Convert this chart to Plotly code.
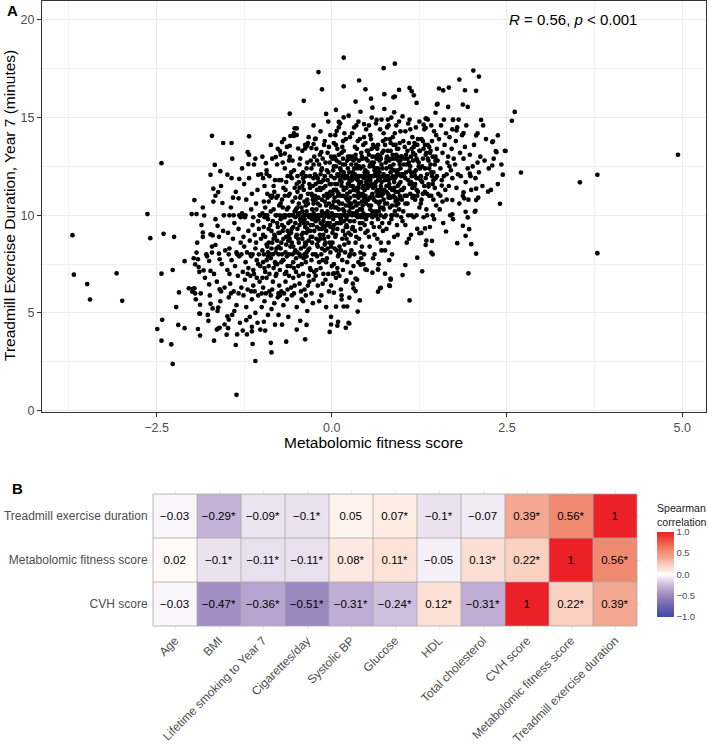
import plotly.graph_objects as go

# ---------------- Panel A data: (metabolomic fitness score, treadmill minutes) ----------------
pts_left_tail = [
    (-3.70, 8.98), (-3.68, 6.96), (-3.49, 6.48), (-3.45, 5.69), (-3.07, 7.03), (-2.99, 5.62),
    (-2.63, 10.06), (-2.59, 8.83), (-2.43, 12.67), (-2.40, 9.05), (-2.25, 8.9), (-2.49, 4.18),
    (-2.42, 4.65), (-2.43, 3.58), (-2.43, 7.01), (-2.27, 7.2), (-2.29, 3.39), (-2.27, 2.39),
    (-2.22, 5.3), (-2.19, 4.39), (-2.18, 6.05), (-2.1, 4.22), (-2.1, 7.65), (-2.04, 6.26),
    (-1.96, 6.26), (-1.99, 6.09), (-1.91, 4.18), (-1.88, 3.84), (-1.89, 4.97), (-1.88, 5.42),
    (-1.36, 0.81), (-1.37, 3.36), (-1.09, 2.54), (-1.13, 3.41), (-0.87, 3.47), (-0.86, 2.98),
    (-0.65, 3.53), (-0.5, 4.15), (-0.38, 3.65), (-0.36, 4.39), (-0.03, 4.03), (-0.01, 4.8),
    (0.08, 4.35), (0.2, 4.24), (0.25, 4.46), (-1.68, 3.58), (-1.62, 4.2), (-1.5, 3.89),
    (-1.48, 4.22), (-1.22, 4.63), (-1.14, 4.29), (-1.14, 4.06), (-1.02, 4.15), (-0.97, 4.55),
    (-1.71, 14.07), (-1.55, 13.7), (-1.43, 13.7), (-1.18, 14.04), (-0.60, 15.2), (-0.40, 15.86),
    (-0.19, 17.33), (-0.14, 16.45), (-0.08, 15.19), (0.17, 18.07), (0.17, 16.6), (0.34, 15.82),
    (0.39, 16.9), (-1.2, 13.23), (-1.19, 12.62), (-1.67, 12.58), (-1.73, 12.07), (-1.59, 12.26),
    (-1.49, 12.08), (-1.43, 11.9), (-1.32, 11.86), (-1.96, 10.78), (-2.0, 10.06), (-1.93, 10.06),
    (-1.82, 9.99), (-1.66, 11.0), (-1.56, 10.63), (-1.69, 11.36), (-1.62, 11.19), (-1.33, 10.87),
    (-1.46, 10.0), (-1.4, 10.0), (-1.3, 10.0), (-1.84, 9.12), (-1.84, 8.9), (-1.73, 9.02),
    (-1.7, 8.97), (-1.63, 9.46), (-1.66, 8.48), (-1.93, 8.09), (-1.91, 7.75), (-1.95, 7.49),
    (-1.9, 7.35), (-1.83, 7.18), (-1.73, 7.15), (-1.75, 7.66), (-1.71, 8.09), (-1.6, 7.75),
    (-1.61, 8.04), (-1.98, 6.24), (-1.95, 6.0), (-1.87, 6.0), (-1.75, 6.46), (-1.73, 5.47),
    (-1.7, 5.23), (-1.62, 5.28), (-1.6, 6.21), (-1.58, 6.1), (-1.88, 4.96), (-1.77, 4.9),
    (-1.49, 4.83), (-1.47, 4.66), (-1.53, 4.41), (-1.6, 4.24), (-1.64, 4.15),
    (-1.05, 12.07), (-0.93, 12.12), (-0.94, 12.67), (-0.99, 13.0), (-0.8, 12.98), (-0.74, 13.29),
    (-0.71, 13.75), (-0.67, 13.16), (-0.6, 13.56), (-0.61, 12.8), (-0.53, 14.45), (-0.5, 14.45),
    (-0.59, 14.06), (-0.54, 14.06), (-0.5, 14.11), (-0.48, 13.42), (-0.38, 13.42), (-0.35, 13.56),
    (-0.29, 13.44), (-0.26, 13.65), (-0.23, 13.92), (-0.15, 13.23),
]

pts_right_tail = [
    (4.94, 13.1), (3.54, 11.69), (3.79, 12.07), (3.79, 8.06), (2.7, 12.19), (2.57, 14.84),
    (2.61, 15.29), (2.4, 10.59), (2.37, 11.6), (2.23, 11.21), (2.06, 11.36), (2.06, 10.78),
    (2.05, 10.23), (2.44, 12.08), (2.48, 13.29), (2.37, 14.09), (2.3, 13.78), (2.35, 13.23),
    (2.02, 17.41), (2.1, 17.1), (1.82, 16.95), (1.9, 16.4), (2.06, 16.37), (1.94, 15.55),
    (1.87, 15.67), (1.53, 16.49), (1.59, 16.39), (1.67, 16.54), (1.5, 15.67), (1.66, 15.55),
    (0.74, 17.53), (0.9, 17.76), (0.48, 16.45), (0.75, 16.2), (0.88, 16.04), (0.9, 16.08),
    (0.96, 16.42), (1.11, 16.52), (1.14, 16.35), (1.17, 16.14), (1.21, 15.75), (0.56, 15.97),
    (0.58, 15.51), (0.75, 15.44), (0.89, 15.27), (1.01, 15.06), (1.34, 14.95), (1.48, 15.25),
    (1.51, 15.7), (1.73, 14.88), (2.06, 8.04), (1.95, 7.03), (1.11, 5.64), (0.37, 5.07),
    (0.4, 5.64), (0.82, 6.41), (0.84, 6.7), (0.76, 7.01), (0.66, 6.09), (0.7, 6.29),
    (1.01, 6.94), (1.22, 7.83), (1.29, 7.13), (1.05, 7.45), (1.99, 8.52), (1.91, 8.95),
    (1.96, 9.29), (1.87, 9.46), (1.79, 8.57), (1.63, 9.17), (1.72, 10.05), (1.91, 10.18),
    (1.94, 9.89), (2.04, 10.18), (1.43, 8.69), (1.42, 8.09), (1.44, 8.0), (1.34, 8.48),
    (1.25, 9.08), (1.33, 9.33), (0.84, 6.76), (0.83, 6.38), (0.69, 6.27), (0.66, 7.23),
    (0.24, 4.49), (0.09, 4.55), (-0.01, 4.41), (0.22, 5.33), (0.17, 5.33), (0.06, 5.32),
    (0.14, 5.69), (0.03, 6.04), (0.25, 5.78), (0.34, 6.12), (0.31, 6.26), (0.34, 6.76),
    (0.21, 6.67), (0.27, 7.06), (0.03, 7.03), (0.08, 7.06), (0.41, 7.47), (0.48, 7.23),
    (0.58, 7.06), (0.66, 7.22), (0.17, 15.01), (0.1, 14.78), (0.07, 14.31), (0.64, 14.88),
    (0.81, 14.6), (0.46, 14.67), (1.31, 14.64), (1.34, 14.48), (1.35, 14.95), (1.73, 14.9),
    (2.13, 14.88), (1.78, 14.34), (1.88, 14.21), (2.06, 14.09), (2.29, 13.75), (2.47, 13.3),
    (2.34, 13.29), (2.29, 12.55), (1.88, 11.18), (1.89, 10.87), (1.57, 11.52), (1.72, 10.78),
    (1.19, 11.6), (1.38, 11.47), (1.97, 12.13), (2.08, 12.7),
]

pts_core_negative = [
    (-1.97, 7.8), (-1.92, 8.6), (-1.86, 9.5), (-1.81, 6.8), (-1.78, 7.9), (-1.74, 5.9), (-1.71, 8.4),
    (-1.68, 7.0), (-1.66, 9.8), (-1.64, 6.6), (-1.61, 8.9), (-1.59, 5.6), (-1.57, 7.5), (-1.55, 9.2),
    (-1.53, 6.3), (-1.52, 8.2), (-1.94, 5.7), (-1.84, 10.4), (-1.76, 4.6), (-1.69, 10.7), (-1.58, 11.5),
    (-1.54, 10.0), (-1.89, 7.1), (-1.79, 8.0), (-1.63, 5.1),
    (-1.49, 7.2), (-1.48, 9.1), (-1.47, 5.8), (-1.46, 8.3), (-1.45, 6.5), (-1.44, 10.4), (-1.43, 7.7),
    (-1.42, 4.9), (-1.41, 8.8), (-1.40, 6.1), (-1.39, 9.6), (-1.38, 7.4), (-1.37, 11.2), (-1.36, 5.4),
    (-1.35, 8.0), (-1.34, 6.9), (-1.33, 9.3), (-1.32, 7.9), (-1.31, 4.5), (-1.30, 8.6), (-1.29, 6.3),
    (-1.28, 10.1), (-1.27, 7.1), (-1.26, 8.9), (-1.26, 5.9), (-1.25, 11.6), (-1.47, 8.0), (-1.44, 6.0),
    (-1.41, 10.9), (-1.39, 5.1), (-1.36, 8.1), (-1.33, 6.0), (-1.30, 9.9), (-1.28, 12.4), (-1.27, 4.1),
    (-1.42, 12.9), (-1.35, 3.9), (-1.46, 7.0), (-1.32, 10.0), (-1.29, 8.0),
    (-1.25, 8.4), (-1.24, 6.7), (-1.24, 9.9), (-1.23, 7.6), (-1.22, 5.3), (-1.22, 10.8), (-1.21, 8.1),
    (-1.20, 6.2), (-1.19, 9.2), (-1.19, 7.3), (-1.18, 11.9), (-1.17, 4.8), (-1.17, 8.7), (-1.16, 6.9),
    (-1.15, 10.3), (-1.15, 7.9), (-1.14, 5.7), (-1.13, 9.5), (-1.13, 8.0), (-1.12, 6.4), (-1.11, 12.6),
    (-1.11, 7.0), (-1.10, 9.0), (-1.09, 5.0), (-1.09, 8.3), (-1.08, 10.6), (-1.07, 6.8), (-1.07, 7.7),
    (-1.06, 11.3), (-1.05, 5.9), (-1.05, 9.7), (-1.04, 8.0), (-1.03, 6.6), (-1.03, 10.0), (-1.02, 7.4),
    (-1.01, 12.1), (-1.01, 8.8), (-1.00, 6.0), (-1.23, 10.0), (-1.21, 3.9), (-1.18, 13.1), (-1.16, 8.0),
    (-1.14, 11.1), (-1.12, 7.2), (-1.10, 6.1), (-1.08, 8.6), (-1.06, 4.5), (-1.04, 9.3), (-1.02, 10.0),
    (-1.20, 7.0), (-1.15, 6.1), (-1.09, 12.9), (-1.05, 7.5), (-1.12, 9.9), (-1.0, 5.3),
    (-0.99, 8.2), (-0.99, 10.1), (-0.98, 6.3), (-0.98, 7.6), (-0.97, 9.4), (-0.96, 11.5), (-0.96, 5.6),
    (-0.95, 8.9), (-0.95, 7.1), (-0.94, 10.0), (-0.93, 6.8), (-0.93, 12.3), (-0.92, 8.4), (-0.91, 4.9),
    (-0.91, 9.8), (-0.90, 7.4), (-0.90, 10.7), (-0.89, 6.1), (-0.88, 8.0), (-0.88, 11.0), (-0.87, 7.8),
    (-0.86, 9.2), (-0.86, 5.2), (-0.85, 8.6), (-0.85, 12.9), (-0.84, 6.6), (-0.83, 10.3), (-0.83, 7.3),
    (-0.82, 9.0), (-0.81, 4.4), (-0.81, 11.8), (-0.80, 8.1), (-0.80, 6.9), (-0.79, 10.0), (-0.78, 7.5),
    (-0.78, 9.6), (-0.77, 5.8), (-0.77, 13.4), (-0.76, 8.4), (-0.75, 6.4), (-0.75, 10.5), (-0.97, 8.0),
    (-0.94, 6.0), (-0.92, 10.0), (-0.89, 12.0), (-0.87, 5.9), (-0.84, 8.0), (-0.82, 11.2), (-0.79, 7.0),
    (-0.76, 9.1), (-0.98, 11.9), (-0.95, 4.1), (-0.91, 7.9), (-0.88, 9.5), (-0.85, 6.2), (-0.83, 8.8),
    (-0.80, 10.0), (-0.78, 12.6), (-0.76, 6.0), (-0.96, 9.9), (-0.93, 7.7), (-0.90, 8.6), (-0.86, 10.9),
    (-0.82, 5.5), (-0.79, 8.3), (-0.77, 11.0), (-0.99, 6.8), (-0.87, 13.6), (-0.81, 7.6), (-0.76, 4.9),
    (-0.74, 9.1), (-0.74, 7.2), (-0.73, 10.6), (-0.73, 8.3), (-0.72, 6.1), (-0.72, 11.8), (-0.71, 9.5),
    (-0.70, 7.7), (-0.70, 12.7), (-0.69, 8.8), (-0.69, 5.4), (-0.68, 10.0), (-0.67, 7.0), (-0.67, 9.9),
    (-0.66, 11.3), (-0.66, 6.6), (-0.65, 8.5), (-0.64, 13.5), (-0.64, 7.9), (-0.63, 9.2), (-0.62, 4.8),
    (-0.62, 10.4), (-0.61, 8.0), (-0.61, 6.9), (-0.60, 11.1), (-0.59, 9.7), (-0.59, 7.4), (-0.58, 12.2),
    (-0.57, 8.6), (-0.57, 5.9), (-0.56, 10.0), (-0.55, 7.6), (-0.55, 9.4), (-0.54, 14.2), (-0.53, 8.1),
    (-0.53, 6.4), (-0.52, 10.9), (-0.51, 8.9), (-0.51, 7.1), (-0.50, 11.6), (-0.73, 13.1), (-0.71, 8.0),
    (-0.68, 6.0), (-0.66, 10.0), (-0.63, 12.0), (-0.61, 9.0), (-0.58, 6.3), (-0.56, 8.0), (-0.53, 10.2),
    (-0.50, 5.3), (-0.74, 10.0), (-0.70, 9.2), (-0.67, 12.4), (-0.64, 5.7), (-0.62, 8.7), (-0.60, 10.0),
    (-0.57, 11.9), (-0.55, 6.8), (-0.52, 9.6), (-0.72, 7.6), (-0.69, 9.9), (-0.65, 11.7), (-0.63, 6.2),
    (-0.59, 8.4), (-0.56, 12.8), (-0.54, 7.3), (-0.51, 10.3), (-0.71, 4.4), (-0.68, 13.9), (-0.65, 7.1),
    (-0.62, 11.0), (-0.58, 9.1), (-0.55, 10.0), (-0.52, 8.2), (-0.74, 5.9), (-0.66, 8.1), (-0.60, 13.0),
    (-0.54, 6.0), (-0.50, 9.0), (-0.69, 11.4),
    (-0.49, 9.3), (-0.49, 11.2), (-0.48, 7.4), (-0.48, 10.1), (-0.47, 8.6), (-0.46, 12.6), (-0.46, 6.5),
    (-0.45, 9.8), (-0.45, 7.9), (-0.44, 11.0), (-0.43, 5.7), (-0.43, 10.4), (-0.42, 8.8), (-0.42, 13.3),
    (-0.41, 7.0), (-0.40, 9.6), (-0.40, 11.7), (-0.39, 6.2), (-0.39, 8.4), (-0.38, 10.0), (-0.37, 12.0),
    (-0.37, 7.6), (-0.36, 9.1), (-0.35, 5.1), (-0.35, 10.8), (-0.34, 8.2), (-0.33, 14.0), (-0.33, 6.9),
    (-0.32, 9.9), (-0.31, 11.4), (-0.31, 7.3), (-0.30, 8.9), (-0.29, 12.4), (-0.29, 6.0), (-0.28, 10.3),
    (-0.27, 8.0), (-0.27, 9.5), (-0.26, 11.9), (-0.25, 7.1), (-0.25, 13.0), (-0.48, 10.0), (-0.46, 8.0),
    (-0.44, 6.1), (-0.41, 12.2), (-0.38, 9.4), (-0.36, 7.9), (-0.34, 11.1), (-0.32, 6.6), (-0.30, 10.0),
    (-0.28, 8.6), (-0.26, 14.6), (-0.49, 8.1), (-0.47, 10.6), (-0.45, 12.9), (-0.43, 9.0), (-0.41, 5.6),
    (-0.39, 10.7), (-0.37, 8.5), (-0.35, 12.7), (-0.33, 10.0), (-0.31, 9.2), (-0.29, 7.7), (-0.27, 11.5),
    (-0.25, 9.9), (-0.47, 6.9), (-0.44, 9.7), (-0.42, 11.5), (-0.40, 7.8), (-0.38, 13.6), (-0.36, 10.2),
    (-0.34, 6.4), (-0.32, 8.3), (-0.30, 12.8), (-0.28, 9.8), (-0.26, 6.7), (-0.49, 12.0), (-0.45, 4.6),
    (-0.42, 9.9), (-0.39, 8.0), (-0.35, 9.6), (-0.31, 10.0), (-0.27, 5.5), (-0.46, 11.4), (-0.40, 10.0),
    (-0.34, 13.7), (-0.28, 11.0), (-0.43, 7.5), (-0.37, 5.9), (-0.30, 7.2), (-0.26, 10.6),
    (-0.24, 9.9), (-0.24, 12.1), (-0.23, 8.0), (-0.23, 10.8), (-0.22, 7.2), (-0.22, 13.4), (-0.21, 9.4),
    (-0.21, 11.3), (-0.20, 6.4), (-0.20, 10.0), (-0.19, 8.7), (-0.18, 12.6), (-0.18, 7.6), (-0.17, 10.5),
    (-0.17, 9.0), (-0.16, 14.3), (-0.15, 5.9), (-0.15, 11.7), (-0.14, 8.3), (-0.14, 10.2), (-0.13, 12.9),
    (-0.12, 7.0), (-0.12, 9.7), (-0.11, 11.0), (-0.10, 8.5), (-0.10, 13.8), (-0.09, 6.7), (-0.09, 10.0),
    (-0.08, 9.2), (-0.07, 12.3), (-0.07, 7.8), (-0.06, 10.9), (-0.05, 8.9), (-0.05, 14.8), (-0.04, 6.1),
    (-0.03, 11.6), (-0.03, 9.6), (-0.02, 8.1), (-0.01, 12.0), (-0.01, 10.4), (0.00, 7.4), (-0.24, 10.0),
    (-0.22, 8.8), (-0.20, 11.9), (-0.18, 10.0), (-0.16, 7.3), (-0.14, 12.4), (-0.12, 9.0), (-0.10, 10.7),
    (-0.08, 5.3), (-0.06, 13.2), (-0.04, 9.9), (-0.02, 11.2), (-0.23, 6.9), (-0.21, 12.8), (-0.19, 9.8),
    (-0.17, 11.4), (-0.15, 8.0), (-0.13, 10.0), (-0.11, 13.6), (-0.09, 8.6), (-0.07, 10.1), (-0.05, 7.0),
    (-0.03, 12.7), (-0.01, 8.4), (-0.24, 13.9), (-0.20, 8.4), (-0.16, 9.6), (-0.12, 11.8), (-0.08, 7.6),
    (-0.04, 10.6), (-0.02, 14.1), (-0.22, 10.3), (-0.18, 5.6), (-0.14, 9.3), (-0.10, 12.0), (-0.06, 8.3),
    (-0.02, 10.0), (-0.21, 7.9), (-0.17, 13.1), (-0.13, 6.5), (-0.09, 11.5), (-0.05, 10.0), (-0.01, 6.4),
    (-0.19, 10.9), (-0.15, 10.0), (-0.11, 8.8), (-0.07, 9.5), (-0.03, 11.0), (-0.23, 11.6), (-0.16, 12.1),
    (-0.10, 9.4), (-0.04, 13.5), (-0.13, 7.7), (-0.06, 11.8),
]

pts_core_positive = [
    (0.01, 10.5), (0.01, 8.6), (0.02, 12.3), (0.02, 9.8), (0.03, 7.5), (0.03, 13.7), (0.04, 10.9),
    (0.05, 8.9), (0.05, 11.6), (0.06, 6.8), (0.06, 10.0), (0.07, 12.8), (0.08, 9.3), (0.08, 11.2),
    (0.09, 7.9), (0.10, 14.5), (0.10, 10.3), (0.11, 8.4), (0.11, 12.1), (0.12, 9.9), (0.13, 6.2),
    (0.13, 11.0), (0.14, 13.2), (0.15, 8.8), (0.15, 10.6), (0.16, 12.6), (0.16, 7.2), (0.17, 9.7),
    (0.18, 11.9), (0.18, 10.0), (0.19, 8.1), (0.20, 13.9), (0.20, 9.4), (0.21, 11.4), (0.22, 7.6),
    (0.22, 10.8), (0.23, 12.4), (0.24, 9.1), (0.24, 15.1), (0.25, 10.2), (0.02, 10.0), (0.04, 11.9),
    (0.06, 9.0), (0.08, 13.4), (0.10, 8.0), (0.12, 10.0), (0.14, 11.5), (0.16, 9.2), (0.18, 14.2),
    (0.20, 6.6), (0.22, 12.0), (0.24, 8.6), (0.01, 12.9), (0.03, 9.5), (0.05, 14.1), (0.07, 8.2),
    (0.09, 10.7), (0.11, 12.7), (0.13, 9.6), (0.15, 7.7), (0.17, 11.3), (0.19, 10.0), (0.21, 8.8),
    (0.23, 13.0), (0.25, 11.7), (0.02, 7.0), (0.06, 12.5), (0.10, 11.1), (0.14, 10.0), (0.18, 8.5),
    (0.22, 11.1), (0.04, 8.3), (0.08, 10.0), (0.12, 14.7), (0.16, 11.0), (0.20, 10.5), (0.24, 12.9),
    (0.03, 11.3), (0.07, 10.4), (0.11, 6.9), (0.15, 13.5), (0.19, 9.0), (0.23, 10.0), (0.01, 9.1),
    (0.05, 10.0), (0.09, 12.0), (0.13, 8.2), (0.17, 12.2), (0.21, 9.8), (0.25, 7.9), (0.04, 13.0),
    (0.12, 11.8), (0.20, 12.0), (0.08, 7.3), (0.16, 13.8), (0.24, 10.7), (0.06, 15.4), (0.14, 5.9),
    (0.22, 9.4), (0.10, 9.6),
    (0.26, 10.9), (0.26, 13.0), (0.27, 9.0), (0.28, 11.8), (0.28, 8.2), (0.29, 14.2), (0.30, 10.4),
    (0.30, 12.2), (0.31, 7.4), (0.32, 11.0), (0.32, 9.7), (0.33, 13.5), (0.34, 8.6), (0.34, 10.0),
    (0.35, 12.6), (0.36, 11.4), (0.36, 6.7), (0.37, 9.9), (0.38, 14.8), (0.38, 10.6), (0.39, 8.8),
    (0.40, 12.0), (0.40, 11.1), (0.41, 9.3), (0.42, 13.2), (0.42, 7.8), (0.43, 10.3), (0.44, 12.9),
    (0.44, 9.6), (0.45, 11.5), (0.46, 8.0), (0.46, 14.0), (0.47, 10.8), (0.48, 12.3), (0.48, 9.1),
    (0.49, 11.7), (0.50, 7.2), (0.50, 10.0), (0.27, 11.5), (0.29, 10.0), (0.31, 12.8), (0.33, 9.2),
    (0.35, 10.0), (0.37, 13.8), (0.39, 11.6), (0.41, 10.0), (0.43, 8.4), (0.45, 13.6), (0.47, 11.3),
    (0.49, 9.8), (0.26, 8.0), (0.28, 12.6), (0.30, 9.4), (0.32, 14.5), (0.34, 11.9), (0.36, 10.2),
    (0.38, 7.6), (0.40, 13.9), (0.42, 11.0), (0.44, 10.5), (0.46, 12.0), (0.48, 10.0), (0.50, 13.3),
    (0.27, 10.4), (0.31, 11.3), (0.35, 8.9), (0.39, 12.5), (0.43, 12.0), (0.47, 9.5), (0.29, 12.0),
    (0.33, 10.7), (0.37, 11.2), (0.41, 8.1), (0.45, 10.1), (0.49, 14.4), (0.26, 14.0), (0.30, 6.5),
    (0.34, 13.1), (0.38, 12.0), (0.42, 9.9), (0.46, 10.9), (0.50, 11.6), (0.28, 10.1), (0.32, 8.0),
    (0.36, 12.4), (0.40, 9.6), (0.44, 11.4), (0.48, 13.7), (0.33, 11.9), (0.41, 15.3), (0.45, 7.5),
    (0.37, 10.0), (0.29, 9.3), (0.49, 10.6), (0.35, 14.6),
    (0.51, 11.4), (0.51, 9.2), (0.52, 13.3), (0.53, 10.5), (0.53, 12.0), (0.54, 8.4), (0.55, 11.8),
    (0.55, 14.1), (0.56, 10.0), (0.57, 12.7), (0.57, 9.6), (0.58, 11.1), (0.59, 7.8), (0.59, 13.6),
    (0.60, 10.8), (0.61, 12.3), (0.61, 9.0), (0.62, 11.5), (0.63, 14.7), (0.63, 10.2), (0.64, 12.9),
    (0.65, 8.8), (0.65, 11.0), (0.66, 13.1), (0.67, 10.6), (0.67, 12.0), (0.68, 9.4), (0.69, 11.9),
    (0.69, 14.4), (0.70, 10.0), (0.71, 12.6), (0.71, 8.2), (0.72, 11.3), (0.73, 13.8), (0.73, 10.4),
    (0.74, 12.1), (0.75, 9.9), (0.52, 10.0), (0.54, 12.5), (0.56, 11.6), (0.58, 13.0), (0.60, 9.4),
    (0.62, 10.0), (0.64, 11.2), (0.66, 9.8), (0.68, 12.8), (0.70, 11.5), (0.72, 9.6), (0.74, 14.2),
    (0.51, 12.8), (0.53, 8.9), (0.55, 10.3), (0.57, 15.0), (0.59, 11.4), (0.61, 10.0), (0.63, 12.2),
    (0.65, 13.4), (0.67, 7.5), (0.69, 10.7), (0.71, 11.0), (0.73, 12.0), (0.75, 11.3), (0.52, 11.8),
    (0.56, 13.9), (0.60, 12.0), (0.64, 10.0), (0.68, 11.1), (0.72, 13.2), (0.54, 10.9), (0.58, 9.9),
    (0.62, 13.5), (0.66, 12.4), (0.70, 8.6), (0.74, 10.8), (0.53, 14.6), (0.57, 11.0), (0.61, 8.0),
    (0.65, 12.0), (0.69, 13.0), (0.73, 9.2), (0.55, 12.0), (0.63, 11.7), (0.71, 14.9), (0.59, 12.5),
    (0.67, 10.2),
    (0.76, 11.8), (0.76, 13.6), (0.77, 10.0), (0.78, 12.4), (0.78, 9.3), (0.79, 14.5), (0.80, 11.1),
    (0.81, 12.9), (0.81, 8.6), (0.82, 11.6), (0.83, 13.9), (0.83, 10.4), (0.84, 12.2), (0.85, 9.8),
    (0.85, 15.0), (0.86, 11.3), (0.87, 13.1), (0.87, 10.0), (0.88, 12.6), (0.89, 8.9), (0.90, 11.9),
    (0.90, 14.2), (0.91, 10.7), (0.92, 12.0), (0.93, 9.5), (0.93, 13.4), (0.94, 11.5), (0.95, 12.8),
    (0.96, 10.3), (0.96, 14.8), (0.97, 11.0), (0.98, 12.4), (0.99, 9.9), (1.00, 13.0), (0.77, 12.0),
    (0.79, 10.6), (0.81, 11.8), (0.83, 12.5), (0.85, 10.0), (0.87, 14.0), (0.89, 11.4), (0.91, 13.6),
    (0.93, 10.0), (0.95, 11.2), (0.97, 13.7), (0.99, 12.0), (0.76, 8.2), (0.80, 13.3), (0.84, 10.9),
    (0.88, 11.0), (0.92, 14.6), (0.96, 12.1), (1.00, 10.8), (0.78, 11.5), (0.82, 9.6), (0.86, 12.9),
    (0.90, 10.2), (0.94, 13.0), (0.98, 11.7), (0.80, 14.9), (0.86, 8.0), (0.92, 10.5), (0.98, 14.3),
    (0.84, 13.7), (0.94, 9.0), (0.77, 13.9), (0.89, 12.3), (0.95, 10.6), (0.82, 7.7), (0.99, 11.3),
    (1.01, 12.1), (1.02, 10.2), (1.02, 13.8), (1.03, 11.4), (1.04, 12.9), (1.05, 9.5), (1.05, 14.3),
    (1.06, 11.0), (1.07, 12.6), (1.08, 10.6), (1.08, 13.3), (1.09, 11.8), (1.10, 8.8), (1.11, 12.3),
    (1.11, 14.9), (1.12, 11.1), (1.13, 13.0), (1.14, 10.0), (1.14, 12.0), (1.15, 14.0), (1.16, 11.6),
    (1.17, 9.9), (1.17, 13.5), (1.18, 12.2), (1.19, 10.8), (1.20, 14.5), (1.21, 11.3), (1.22, 12.8),
    (1.22, 9.3), (1.23, 13.9), (1.24, 11.9), (1.25, 10.4), (1.03, 12.0), (1.06, 13.1), (1.09, 10.0),
    (1.12, 14.4), (1.15, 11.4), (1.18, 13.7), (1.21, 10.0), (1.24, 12.5), (1.04, 11.0), (1.07, 8.6),
    (1.10, 12.7), (1.13, 11.7), (1.16, 13.2), (1.19, 12.0), (1.22, 11.0), (1.25, 13.3), (1.01, 9.7),
    (1.05, 11.9), (1.09, 14.7), (1.13, 9.0), (1.17, 11.0), (1.21, 12.9), (1.25, 14.8),
    (1.26, 12.4), (1.27, 10.6), (1.28, 13.9), (1.29, 11.7), (1.30, 12.9), (1.31, 9.9), (1.32, 14.4),
    (1.33, 11.2), (1.34, 13.1), (1.35, 10.3), (1.36, 12.1), (1.37, 14.9), (1.38, 11.6), (1.39, 13.5),
    (1.40, 9.4), (1.41, 12.6), (1.42, 11.0), (1.43, 13.8), (1.44, 10.0), (1.45, 12.2), (1.46, 14.3),
    (1.47, 11.4), (1.48, 13.0), (1.49, 10.5), (1.50, 12.0), (1.27, 12.0), (1.30, 11.1), (1.33, 13.6),
    (1.36, 10.0), (1.39, 12.4), (1.42, 14.6), (1.45, 11.8), (1.48, 12.8), (1.28, 9.1), (1.34, 11.9),
    (1.40, 13.2), (1.46, 9.8), (1.31, 13.4), (1.37, 12.9), (1.43, 12.0), (1.49, 14.1), (1.35, 8.7),
    (1.51, 12.8), (1.52, 11.1), (1.53, 13.9), (1.54, 10.3), (1.55, 12.4), (1.56, 14.6), (1.57, 11.8),
    (1.58, 13.2), (1.59, 9.6), (1.60, 12.0), (1.61, 13.6), (1.62, 11.3), (1.63, 14.2), (1.64, 10.8),
    (1.65, 12.7), (1.66, 13.0), (1.67, 11.5), (1.68, 14.0), (1.69, 10.0), (1.70, 12.3), (1.71, 13.4),
    (1.72, 11.9), (1.73, 9.8), (1.74, 12.9), (1.55, 11.0), (1.60, 14.9), (1.64, 12.1), (1.68, 12.5),
    (1.72, 14.4), (1.58, 10.7),
    (1.76, 12.6), (1.77, 13.8), (1.78, 11.4), (1.79, 14.5), (1.80, 12.1), (1.82, 10.6), (1.83, 13.2),
    (1.84, 12.0), (1.86, 14.1), (1.87, 11.0), (1.88, 12.9), (1.90, 13.5), (1.91, 11.7), (1.92, 14.6),
    (1.94, 12.4), (1.95, 10.8), (1.97, 13.1), (1.98, 12.0), (1.99, 11.3), (1.81, 14.9),
    (2.01, 12.5), (2.03, 13.6), (2.05, 11.9), (2.08, 14.2), (2.10, 12.2), (2.12, 13.0), (2.15, 11.5),
    (2.18, 12.8), (2.20, 13.9), (2.24, 12.4), (2.27, 11.3), (2.31, 12.9), (2.16, 14.6), (2.09, 10.9),
    (2.42, 12.6),
]

pts_core_dense = [
    (-0.98, 9.0), (-0.96, 7.3), (-0.95, 10.4), (-0.93, 8.5), (-0.92, 11.1), (-0.90, 9.3), (-0.89, 7.0),
    (-0.87, 10.2), (-0.86, 8.3), (-0.84, 9.7), (-0.83, 11.5), (-0.81, 8.9), (-0.80, 7.5), (-0.79, 10.9),
    (-0.77, 9.4), (-0.76, 8.0), (-0.75, 11.8), (-0.73, 9.8), (-0.72, 8.6), (-0.71, 10.8), (-0.69, 7.7),
    (-0.68, 9.4), (-0.67, 11.0), (-0.65, 8.9), (-0.64, 10.3), (-0.63, 7.4), (-0.61, 10.0), (-0.60, 8.8),
    (-0.59, 12.0), (-0.57, 9.3), (-0.56, 10.7), (-0.55, 8.4), (-0.53, 11.4), (-0.52, 9.9), (-0.51, 7.8),
    (-0.97, 10.7), (-0.91, 8.1), (-0.85, 11.0), (-0.78, 8.7), (-0.70, 10.4), (-0.62, 9.6), (-0.54, 12.3),
    (-0.49, 10.4), (-0.48, 8.8), (-0.47, 11.7), (-0.46, 9.5), (-0.45, 10.9), (-0.44, 8.3), (-0.43, 12.1),
    (-0.42, 10.2), (-0.41, 9.1), (-0.40, 11.3), (-0.39, 9.8), (-0.38, 8.6), (-0.37, 10.5), (-0.36, 12.4),
    (-0.35, 9.3), (-0.34, 10.6), (-0.33, 8.7), (-0.32, 11.6), (-0.31, 10.0), (-0.30, 9.5), (-0.29, 11.1),
    (-0.28, 8.9), (-0.27, 10.8), (-0.26, 12.6), (-0.25, 9.2), (-0.24, 11.0), (-0.23, 9.7), (-0.22, 12.0),
    (-0.21, 8.5), (-0.20, 10.6), (-0.19, 11.7), (-0.18, 9.3), (-0.17, 10.0), (-0.16, 8.8), (-0.15, 12.3),
    (-0.14, 10.8), (-0.13, 9.5), (-0.12, 11.4), (-0.11, 10.1), (-0.10, 8.2), (-0.09, 12.7), (-0.08, 10.5),
    (-0.07, 11.1), (-0.06, 9.6), (-0.05, 12.2), (-0.04, 11.0), (-0.03, 8.6), (-0.02, 9.4), (-0.01, 11.6),
    (0.00, 10.1), (-0.46, 10.1), (-0.41, 11.9), (-0.36, 8.1), (-0.31, 12.0), (-0.26, 10.1), (-0.21, 10.9),
    (-0.16, 11.3), (-0.11, 9.9), (-0.06, 10.2), (-0.01, 13.0),
    (0.01, 11.1), (0.02, 9.3), (0.03, 12.5), (0.04, 10.4), (0.05, 12.9), (0.06, 11.3), (0.07, 9.6),
    (0.08, 12.1), (0.09, 11.0), (0.10, 13.1), (0.11, 10.6), (0.12, 12.4), (0.13, 9.8), (0.14, 11.7),
    (0.15, 12.0), (0.16, 10.3), (0.17, 13.3), (0.18, 11.4), (0.19, 12.6), (0.20, 10.9), (0.21, 9.5),
    (0.22, 12.8), (0.23, 11.6), (0.24, 10.5), (0.25, 12.2), (0.26, 11.2), (0.27, 12.9), (0.28, 10.6),
    (0.29, 13.0), (0.30, 11.5), (0.31, 10.1), (0.32, 12.4), (0.33, 11.3), (0.34, 12.9), (0.35, 10.5),
    (0.36, 13.4), (0.37, 11.8), (0.38, 10.9), (0.39, 12.8), (0.40, 10.3), (0.41, 12.4), (0.42, 11.7),
    (0.43, 13.0), (0.44, 11.1), (0.45, 12.5), (0.46, 9.9), (0.47, 12.2), (0.48, 11.0), (0.49, 12.9),
    (0.50, 10.8), (0.03, 10.7), (0.08, 11.6), (0.13, 12.3), (0.18, 10.2), (0.23, 11.9), (0.28, 11.8),
    (0.33, 12.1), (0.38, 11.4), (0.43, 10.7), (0.48, 12.0), (0.06, 13.6), (0.16, 12.9), (0.26, 9.7),
    (0.36, 11.0), (0.46, 11.9),
    (0.51, 12.2), (0.52, 10.8), (0.53, 13.1), (0.54, 11.5), (0.55, 12.6), (0.56, 10.5), (0.57, 13.4),
    (0.58, 12.0), (0.59, 10.9), (0.60, 12.7), (0.61, 11.6), (0.62, 13.0), (0.63, 10.7), (0.64, 12.4),
    (0.65, 11.3), (0.66, 13.6), (0.67, 11.0), (0.68, 12.2), (0.69, 10.4), (0.70, 12.9), (0.71, 11.7),
    (0.72, 12.4), (0.73, 11.1), (0.74, 13.3), (0.75, 12.0), (0.76, 10.6), (0.77, 12.7), (0.78, 11.2),
    (0.79, 13.0), (0.80, 12.0), (0.81, 10.9), (0.82, 12.8), (0.83, 11.4), (0.84, 13.3), (0.85, 12.4),
    (0.86, 10.5), (0.87, 12.0), (0.88, 13.6), (0.89, 11.7), (0.90, 12.9), (0.91, 11.2), (0.92, 13.1),
    (0.93, 12.2), (0.94, 10.8), (0.95, 13.4), (0.96, 11.6), (0.97, 12.6), (0.98, 10.9), (0.99, 13.0),
    (1.00, 12.1), (0.54, 11.9), (0.62, 12.1), (0.70, 11.3), (0.78, 12.9), (0.86, 11.9), (0.94, 12.3),
    (0.58, 10.2), (0.66, 11.8), (0.74, 10.3), (0.82, 11.0), (0.90, 10.9), (0.98, 12.8),
    (1.01, 11.3), (1.03, 12.6), (1.04, 13.5), (1.06, 12.2), (1.07, 11.0), (1.08, 12.9), (1.10, 13.7),
    (1.11, 11.6), (1.12, 12.5), (1.14, 13.4), (1.15, 10.9), (1.16, 12.8), (1.18, 11.5), (1.19, 13.1),
    (1.20, 12.3), (1.22, 13.6), (1.23, 11.2), (1.24, 12.7), (1.26, 13.3), (1.27, 11.8), (1.29, 12.5),
    (1.30, 13.8), (1.32, 11.5), (1.33, 12.4), (1.35, 13.2), (1.36, 11.1), (1.38, 12.8), (1.39, 11.0),
    (1.41, 13.3), (1.42, 12.2), (1.44, 13.0), (1.45, 10.8), (1.47, 12.6), (1.48, 11.9), (1.50, 13.4),
    (1.05, 10.6), (1.13, 12.2), (1.21, 11.9), (1.28, 10.8), (1.37, 13.6), (1.44, 11.6),
]

scatter_points = pts_left_tail + pts_core_negative + pts_core_positive + pts_core_dense + pts_right_tail
metabolomic_score = [p[0] for p in scatter_points]
treadmill_minutes = [p[1] for p in scatter_points]

x_tick_vals = [-2.5, 0.0, 2.5, 5.0]
x_tick_text = ["\u22122.5", "0.0", "2.5", "5.0"]
y_tick_vals = [0, 5, 10, 15, 20]
stat_label = "<i>R</i> = 0.56, <i>p</i> &lt; 0.001"
stat_label_x = 2.5
stat_label_y = 20

# ---------------- Panel B data: Spearman correlations ----------------
heat_cols = ["Age", "BMI", "Lifetime smoking to Year 7", "Cigarettes/day", "Systolic BP",
             "Glucose", "HDL", "Total cholesterol", "CVH score", "Metabolomic fitness score",
             "Treadmill exercise duration"]
heat_rows = ["CVH score", "Metabolomic fitness score", "Treadmill exercise duration"]  # bottom -> top
corr_cvh = [-0.03, -0.47, -0.36, -0.51, -0.31, -0.24, 0.12, -0.31, 1, 0.22, 0.39]
corr_mfs = [0.02, -0.1, -0.11, -0.11, 0.08, 0.11, -0.05, 0.13, 0.22, 1, 0.56]
corr_ted = [-0.03, -0.29, -0.09, -0.1, 0.05, 0.07, -0.1, -0.07, 0.39, 0.56, 1]
sig_cvh = [0, 1, 1, 1, 1, 1, 1, 1, 0, 1, 1]
sig_mfs = [0, 1, 1, 1, 1, 1, 0, 1, 1, 0, 1]
sig_ted = [0, 1, 1, 1, 0, 1, 1, 0, 1, 1, 0]
cbar_vals = [-1, -0.5, 0, 0.5, 1]
cbar_text = ["\u22121.0", "\u22120.5", "0.0", "0.5", "1.0"]

z = [corr_cvh, corr_mfs, corr_ted]
sigs = [sig_cvh, sig_mfs, sig_ted]


def fmt(v, s):
    t = "{:g}".format(v).replace("-", "\u2212")
    return t + ("*" if s else "")


labels = [[fmt(v, s) for v, s in zip(row, srow)] for row, srow in zip(z, sigs)]

# ---------------- layout helpers (pixel geometry) ----------------
W, H = 709, 744
FONT = "Liberation Sans, Arial, Helvetica, sans-serif"


def fx(p):
    return p / W


def fy(p):
    return 1 - p / H


colorscale = [
    [0.0, "#3d4ba6"], [0.125, "#6c64b0"], [0.25, "#9d88c0"], [0.35, "#c2afd7"],
    [0.375, "#cbbcdd"], [0.45, "#ebe1ef"], [0.5, "#ffffff"], [0.55, "#fde4da"],
    [0.61, "#fad0c0"], [0.695, "#f5a891"], [0.78, "#ef8a70"], [0.875, "#ee5a48"],
    [1.0, "#ec2027"],
]

fig = go.Figure()

fig.add_trace(go.Scatter(
    x=metabolomic_score, y=treadmill_minutes, mode="markers",
    marker=dict(color="black", size=4.7, line=dict(width=0)),
    xaxis="x", yaxis="y", hoverinfo="skip", showlegend=False,
))

fig.add_trace(go.Heatmap(
    z=z, x=heat_cols, y=heat_rows, text=labels, texttemplate="%{text}",
    textfont=dict(family=FONT, size=11.5, color="black"),
    colorscale=colorscale, zmin=-1, zmax=1, xaxis="x2", yaxis="y2",
    hoverinfo="skip",
    colorbar=dict(
        thickness=17, thicknessmode="pixels", len=116, lenmode="pixels",
        x=fx(657), xanchor="left", y=fy(559), yanchor="middle",
        xpad=0, ypad=0, outlinewidth=0,
        tickvals=cbar_vals, ticktext=cbar_text, ticks="",
        tickfont=dict(family=FONT, size=9.5, color="#4d4d4d"),
        title=dict(text="Spearman<br>correlation", side="top",
                   font=dict(family=FONT, size=10.6, color="#1a1a1a")),
    ),
))

shapes = []
ncol, nrow = len(heat_cols), len(heat_rows)
for i in range(ncol + 1):
    shapes.append(dict(type="line", xref="x2", yref="y2", x0=i - 0.5, x1=i - 0.5,
                       y0=-0.5, y1=nrow - 0.5, line=dict(color="#a8a8a8", width=0.8)))
for j in range(nrow + 1):
    shapes.append(dict(type="line", xref="x2", yref="y2", x0=-0.5, x1=ncol - 0.5,
                       y0=j - 0.5, y1=j - 0.5, line=dict(color="#a8a8a8", width=0.8)))

annotations = [
    dict(text=stat_label, x=stat_label_x, y=stat_label_y, xref="x", yref="y",
         xanchor="left", yanchor="middle", showarrow=False,
         font=dict(family=FONT, size=15, color="black")),
    dict(text="Metabolomic fitness score", x=fx(374), y=fy(442), xref="paper", yref="paper",
         xanchor="center", yanchor="middle", showarrow=False,
         font=dict(family=FONT, size=15.5, color="black")),
    dict(text="Treadmill Exercise Duration, Year 7 (minutes)", x=fx(10), y=fy(206),
         xref="paper", yref="paper", xanchor="center", yanchor="middle", textangle=-90,
         showarrow=False, font=dict(family=FONT, size=15.5, color="black")),
    dict(text="<b>A</b>", x=fx(12), y=fy(11), xref="paper", yref="paper",
         xanchor="center", yanchor="middle", showarrow=False,
         font=dict(family=FONT, size=15, color="black")),
    dict(text="<b>B</b>", x=fx(17), y=fy(488), xref="paper", yref="paper",
         xanchor="center", yanchor="middle", showarrow=False,
         font=dict(family=FONT, size=15, color="black")),
]

fig.update_layout(
    width=W, height=H, autosize=False,
    margin=dict(l=0, r=0, t=0, b=0, pad=0, autoexpand=False),
    paper_bgcolor="white", plot_bgcolor="white",
    font=dict(family=FONT),
    showlegend=False,
    shapes=shapes,
    annotations=annotations,
    xaxis=dict(
        domain=[fx(42), fx(706)], range=[-4.135, 5.34], anchor="y",
        tickvals=x_tick_vals, ticktext=x_tick_text,
        tickfont=dict(family=FONT, size=12.5, color="#4d4d4d"),
        ticks="outside", ticklen=4, tickcolor="#333333", tickwidth=1,
        showgrid=True, gridcolor="#ebebeb", gridwidth=1, zeroline=False,
        showline=True, mirror=True, linecolor="#333333", linewidth=1,
        automargin=False,
        minor=dict(tickvals=[-3.75, -1.25, 1.25, 3.75], showgrid=True,
                   gridcolor="#f2f2f2", gridwidth=0.7, ticks=""),
    ),
    yaxis=dict(
        domain=[fy(412), fy(1)], range=[-0.07, 20.97], anchor="x",
        tickvals=y_tick_vals,
        tickfont=dict(family=FONT, size=12.5, color="#4d4d4d"),
        ticks="outside", ticklen=4, tickcolor="#333333", tickwidth=1,
        showgrid=True, gridcolor="#ebebeb", gridwidth=1, zeroline=False,
        showline=True, mirror=True, linecolor="#333333", linewidth=1,
        automargin=False,
        minor=dict(tickvals=[2.5, 7.5, 12.5, 17.5], showgrid=True,
                   gridcolor="#f2f2f2", gridwidth=0.7, ticks=""),
    ),
    xaxis2=dict(
        domain=[fx(148.6), fx(641.4)], range=[-0.6, ncol - 0.4], anchor="y2",
        type="category", categoryorder="array", categoryarray=heat_cols,
        tickangle=-45, tickfont=dict(family=FONT, size=12, color="#4d4d4d"),
        showgrid=True, gridcolor="#ebebeb", gridwidth=1, zeroline=False,
        ticks="", showline=False, automargin=False,
    ),
    yaxis2=dict(
        domain=[fy(630.4), fy(489.6)], range=[-0.6, nrow - 0.4], anchor="x2",
        type="category", categoryorder="array", categoryarray=heat_rows,
        tickfont=dict(family=FONT, size=12, color="#4d4d4d"),
        showgrid=True, gridcolor="#ebebeb", gridwidth=1, zeroline=False,
        ticks="", showline=False, automargin=False,
    ),
)

fig.write_html(
    "out.html",
    config={"displayModeBar": False},
    post_script="document.body.style.margin='0px';document.body.style.padding='0px';",
)
